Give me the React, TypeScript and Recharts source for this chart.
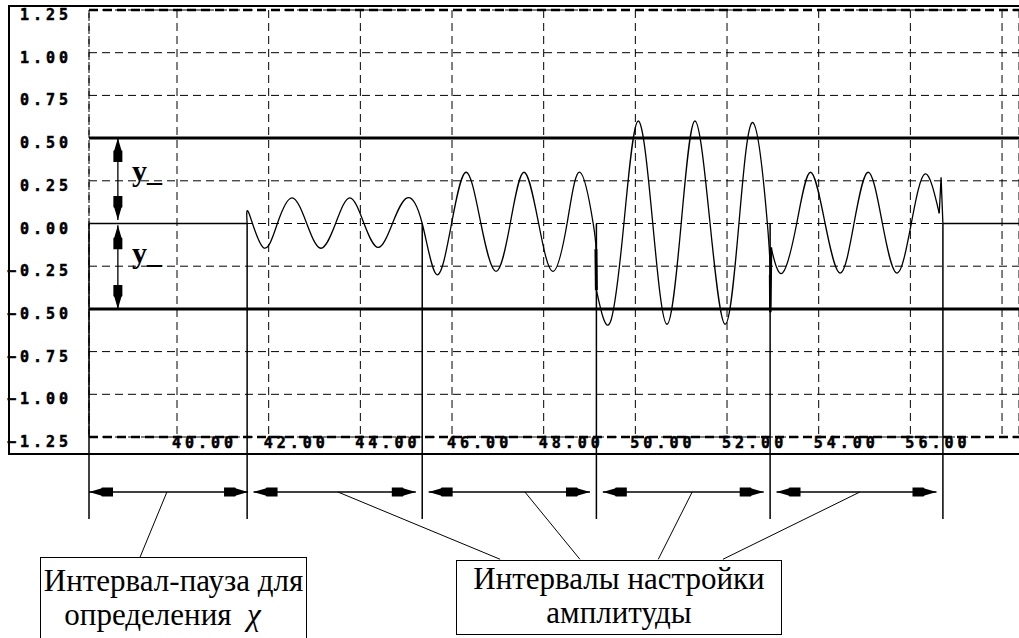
import React from "react";
import { LineChart, Line, XAxis, YAxis, CartesianGrid, ReferenceLine } from "recharts";

// axis ticks
const yTicks = [-1.25, -1, -0.75, -0.5, -0.25, 0, 0.25, 0.5, 0.75, 1, 1.25];
const xTicks = [40, 42, 44, 46, 48, 50, 52, 54, 56, 58];
const xLabelTicks = [40, 42, 44, 46, 48, 50, 52, 54, 56];

// signal, piece by piece (time, value)
const pauseT = [38.08, 41.53];
const pauseV = [0, 0];

// small and medium amplitude (intervals 1 and 2)
const wave1T = [
  41.53, 41.57, 41.88, 42.19, 42.51, 42.83, 43.14, 43.46, 43.77, 44.08, 44.39, 44.7, 45.02, 45.35,
  45.67, 45.99, 46.31, 46.63, 46.96, 47.27, 47.57, 47.89, 48.2, 48.51, 48.79, 49.08, 49.14,
];
const wave1V = [
  0, 0.06, -0.14, 0, 0.15, 0, -0.145, 0, 0.15, 0, -0.14, 0, 0.15, 0,
  -0.3, 0, 0.3, 0, -0.28, 0, 0.3, 0, -0.28, 0, 0.3, 0, -0.15,
];

// large amplitude (interval 3)
const wave2T = [49.15, 49.45, 49.75, 50.06, 50.38, 50.69, 51.0, 51.3, 51.63, 51.96, 52.26, 52.57, 52.88, 52.94];
const wave2V = [-0.39, -0.58, 0, 0.6, 0, -0.59, 0, 0.6, 0, -0.59, 0, 0.59, 0, -0.3];

// medium amplitude (interval 4)
const wave3T = [52.96, 53.21, 53.52, 53.82, 54.14, 54.47, 54.77, 55.08, 55.39, 55.71, 56.02, 56.32, 56.63];
const wave3V = [-0.14, -0.29, 0, 0.3, 0, -0.29, 0, 0.3, 0, -0.29, 0, 0.29, 0.06];

// switching jumps and the tail
const jump1T = [49.14, 49.15];
const jump1V = [-0.15, -0.39];
const jump2T = [52.94, 52.945, 52.96];
const jump2V = [-0.3, -0.52, -0.14];
const tailT = [56.63, 56.67, 56.71, 58.37];
const tailV = [0.06, 0.27, 0, 0];

// interval boundaries, amplitude limits
const intervalBounds = [38.08, 41.53, 45.35, 49.15, 52.94, 56.71];
const limitLevels = [0.5, -0.5];
const yArrowSpans = [
  [0.5, 0.02],
  [-0.01, -0.5],
];

// callouts: [x on arrow line, x at box top, y at box top]
const pauseLinks = [[39.78, 39.19, -1.956]];
const tuneLinks = [
  [43.51, 47.05, -1.966],
  [47.59, 48.79, -1.966],
  [51.24, 50.5, -1.966],
  [54.9, 51.91, -1.966],
];
const pauseText = ["Интервал-пауза для", "определения"];
const tuneText = ["Интервалы настройки", "амплитуды"];

const pts = (ts: number[], vs: number[]) => ts.map((t, i) => ({ t, v: vs[i] }));

const X_MIN = 38.08;
const X_MAX = 58.37;
const ARROW_Y = -1.572;
const MARK_BOTTOM = -1.73;
const GAP = 0.14;

const HEAD = [
  [0, 0],
  [12, -3.5],
  [13, -4.5],
  [24, -4.5],
  [24, 4.5],
  [13, 4.5],
  [12, 3.5],
];

function head(tx: number, ty: number, dx: number, dy: number) {
  const px = -dy;
  const py = dx;
  const p = HEAD.map(([a, b]) => `${tx + dx * a + px * b},${ty + dy * a + py * b}`).join(" ");
  return <polygon points={p} fill="#000" />;
}

function ArrowLine(props: any) {
  const { x1, y1, x2, y2, label, labelDy } = props;
  const dx = x2 - x1;
  const dy = y2 - y1;
  const len = Math.hypot(dx, dy) || 1;
  const ux = dx / len;
  const uy = dy / len;
  return (
    <g>
      <line x1={x1} y1={y1} x2={x2} y2={y2} stroke="#000" strokeWidth={1.3} />
      {head(x1, y1, ux, uy)}
      {head(x2, y2, -ux, -uy)}
      {label ? (
        <text
          x={x1 + 14}
          y={(y1 + y2) / 2 + (labelDy || 0)}
          fontFamily="'Liberation Serif', serif"
          fontWeight="bold"
          fontSize={30}
          fill="#000"
        >
          {label}
        </text>
      ) : null}
    </g>
  );
}

function TickText({ x, y, children }: any) {
  return (
    <text
      x={x}
      y={y}
      fontFamily="'DejaVu Sans Mono', monospace"
      fontWeight="bold"
      fontSize={15}
      letterSpacing={4}
      fill="#000"
      stroke="#000"
      strokeWidth={0.5}
    >
      {children}
    </text>
  );
}

function YTick(props: any) {
  const { y, payload } = props;
  const v = payload.value as number;
  return (
    <TickText x={v < 0 ? 7 : 20} y={y + 10}>
      {v < 0 ? "\u2212" + Math.abs(v).toFixed(2) : v.toFixed(2)}
    </TickText>
  );
}

function XTick(props: any) {
  const { x, y, payload } = props;
  const v = payload.value as number;
  if (!xLabelTicks.includes(v)) return <g />;
  return (
    <TickText x={x - 5} y={y + 11}>
      {v.toFixed(2)}
    </TickText>
  );
}

const boxText: React.CSSProperties = {
  position: "absolute",
  border: "1.5px solid #000",
  background: "#fff",
  fontFamily: "'Liberation Serif', serif",
  fontSize: 31,
  lineHeight: "34px",
  textAlign: "center",
  color: "#000",
  boxSizing: "border-box",
  whiteSpace: "nowrap",
};

export default function App() {
  return (
    <div
      style={{
        position: "absolute",
        left: 0,
        top: 0,
        width: 1019,
        height: 638,
        overflow: "hidden",
        background: "#fff",
      }}
    >
      <div
        style={{
          position: "absolute",
          left: 8,
          top: 5,
          width: 1040,
          height: 450,
          borderLeft: "2px solid #000",
          borderTop: "2px solid #000",
          borderBottom: "2px solid #000",
          boxSizing: "border-box",
        }}
      />
      <div style={{ position: "absolute", left: 0, top: 0 }}>
        <LineChart width={1019} height={638} margin={{ top: 10, right: 0, bottom: 0, left: 0 }}>
          <CartesianGrid stroke="#000" strokeDasharray="8 5" strokeWidth={1} />
          <XAxis
            type="number"
            dataKey="t"
            domain={[X_MIN, X_MAX]}
            ticks={xTicks}
            height={201}
            axisLine={false}
            tickLine={false}
            tickSize={0}
            tickMargin={0}
            interval={0}
            allowDataOverflow
            tick={<XTick />}
          />
          <YAxis
            type="number"
            domain={[-1.25, 1.25]}
            ticks={yTicks}
            width={89}
            axisLine={false}
            tickLine={false}
            interval={0}
            allowDataOverflow
            tick={<YTick />}
          />
          <ReferenceLine x={X_MIN} stroke="#000" strokeDasharray="8 5" />
          <ReferenceLine y={1.25} stroke="#000" strokeWidth={2.5} strokeDasharray="9 5" />
          <ReferenceLine y={-1.25} stroke="#000" strokeWidth={2.5} strokeDasharray="9 5" />
          {limitLevels.map((l) => (
            <ReferenceLine key={"lim" + l} y={l} stroke="#000" strokeWidth={3} />
          ))}
          {intervalBounds.map((b) => (
            <ReferenceLine
              key={"b" + b}
              segment={[
                { x: b, y: 0 },
                { x: b, y: MARK_BOTTOM },
              ]}
              stroke="#000"
              strokeWidth={1.5}
              ifOverflow="visible"
            />
          ))}
          {intervalBounds.slice(0, -1).map((b, i) => (
            <ReferenceLine
              key={"a" + b}
              segment={[
                { x: i === 0 ? b : b + GAP, y: ARROW_Y },
                { x: intervalBounds[i + 1] - (i === 0 ? -0.02 : GAP), y: ARROW_Y },
              ]}
              ifOverflow="visible"
              shape={(p: any) => <ArrowLine {...p} />}
            />
          ))}
          {yArrowSpans.map(([a, b], i) => (
            <ReferenceLine
              key={"ya" + i}
              segment={[
                { x: 38.71, y: a },
                { x: 38.71, y: b },
              ]}
              ifOverflow="visible"
              shape={(p: any) => <ArrowLine {...p} label="y_" labelDy={i === 0 ? 2 : -4} />}
            />
          ))}
          {[...pauseLinks, ...tuneLinks].map(([xa, xb, yb], i) => (
            <ReferenceLine
              key={"c" + i}
              segment={[
                { x: xa, y: ARROW_Y },
                { x: xb, y: yb },
              ]}
              stroke="#000"
              strokeWidth={1}
              ifOverflow="visible"
            />
          ))}
          <Line data={pts(pauseT, pauseV)} dataKey="v" type="linear" stroke="#000" strokeWidth={1.3} dot={false} isAnimationActive={false} />
          <Line data={pts(wave1T, wave1V)} dataKey="v" type="natural" stroke="#000" strokeWidth={1.3} dot={false} isAnimationActive={false} />
          <Line data={pts(wave2T, wave2V)} dataKey="v" type="natural" stroke="#000" strokeWidth={1.3} dot={false} isAnimationActive={false} />
          <Line data={pts(wave3T, wave3V)} dataKey="v" type="natural" stroke="#000" strokeWidth={1.3} dot={false} isAnimationActive={false} />
          <Line data={pts(jump1T, jump1V)} dataKey="v" type="linear" stroke="#000" strokeWidth={3} dot={false} isAnimationActive={false} />
          <Line data={pts(jump2T, jump2V)} dataKey="v" type="linear" stroke="#000" strokeWidth={2.5} dot={false} isAnimationActive={false} />
          <Line data={pts(tailT, tailV)} dataKey="v" type="linear" stroke="#000" strokeWidth={1.3} dot={false} isAnimationActive={false} />
        </LineChart>
      </div>
      <div style={{ ...boxText, left: 40, top: 557, width: 267, height: 100, paddingTop: 6 }}>
        <div>{pauseText[0]}</div>
        <div style={{ paddingRight: 22 }}>
          {pauseText[1]}&nbsp;&nbsp;<i>χ</i>
        </div>
      </div>
      <div style={{ ...boxText, left: 456, top: 560, width: 326, height: 75, paddingTop: 1 }}>
        <div>{tuneText[0]}</div>
        <div>{tuneText[1]}</div>
      </div>
    </div>
  );
}
